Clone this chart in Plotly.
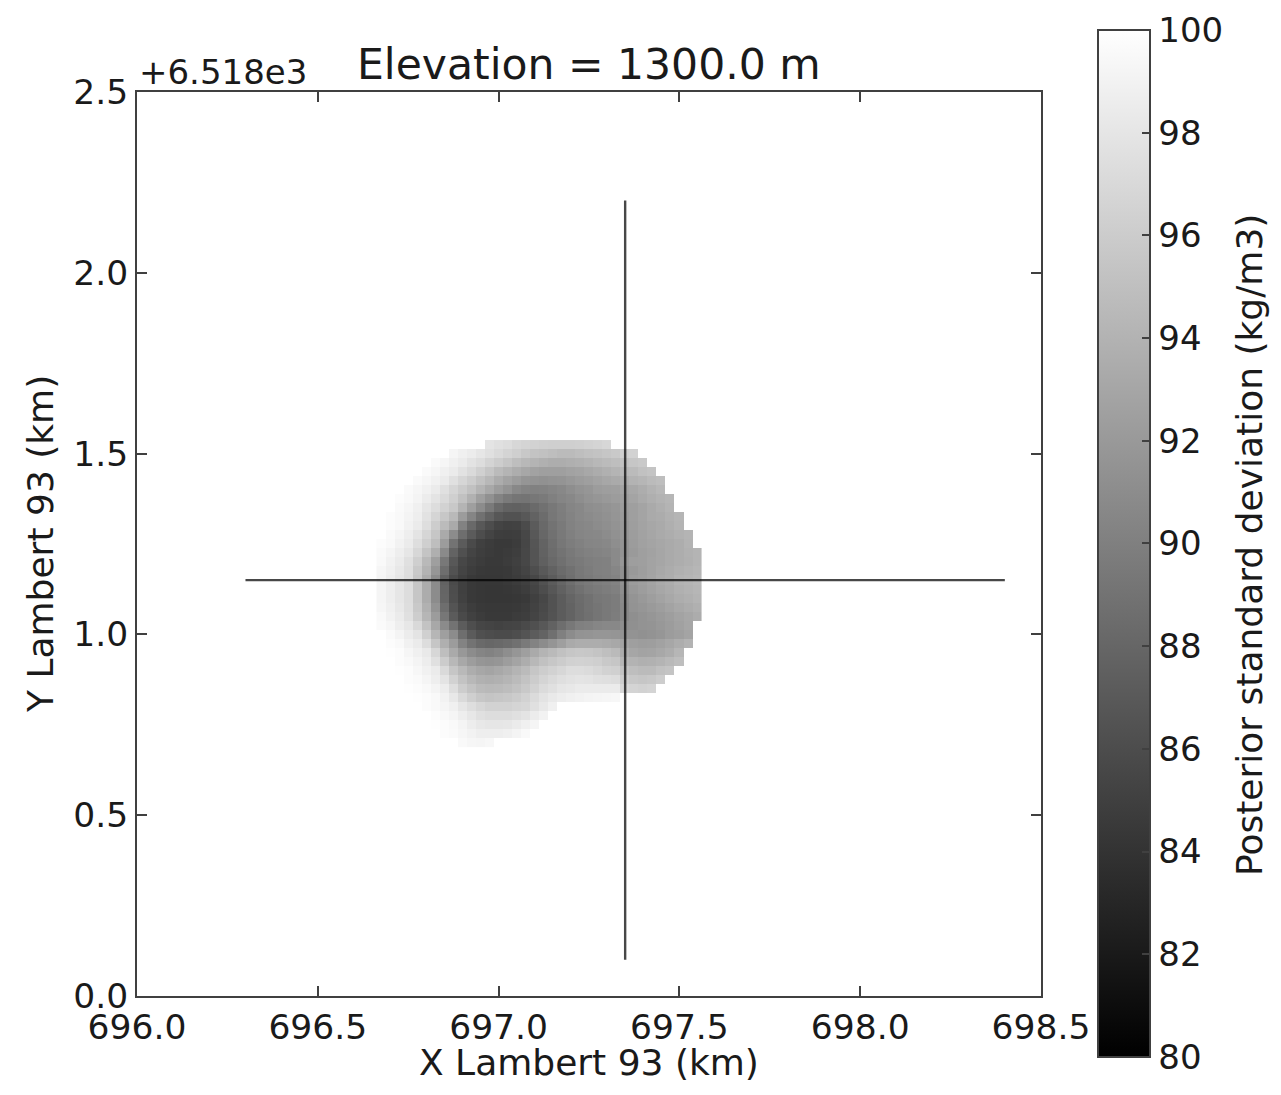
import plotly.graph_objects as go

# Posterior standard deviation of density (kg/m3) on the 1300 m elevation slice.
# Grid spacing is 25 m; cells outside the resolved zone are left empty (None).
_ = None

# Easting of cell centres (km, Lambert 93)
x_km = [696.675, 696.700, 696.725, 696.750, 696.775, 696.800, 696.825, 696.850,
        696.875, 696.900, 696.925, 696.950, 696.975, 697.000, 697.025, 697.050,
        697.075, 697.100, 697.125, 697.150, 697.175, 697.200, 697.225, 697.250,
        697.275, 697.300, 697.325, 697.350, 697.375, 697.400, 697.425, 697.450,
        697.475, 697.500, 697.525, 697.550]

# Northing of cell centres (km, Lambert 93), south to north
y_km = [6518.700, 6518.725, 6518.750, 6518.775, 6518.800, 6518.825, 6518.850,
        6518.875, 6518.900, 6518.925, 6518.950, 6518.975, 6519.000, 6519.025,
        6519.050, 6519.075, 6519.100, 6519.125, 6519.150, 6519.175, 6519.200,
        6519.225, 6519.250, 6519.275, 6519.300, 6519.325, 6519.350, 6519.375,
        6519.400, 6519.425, 6519.450, 6519.475, 6519.500, 6519.525]

# Standard deviation rows, south to north (one row per northing above)
std_dev = [
    [_] * 9 + [99.5, 99.3, 99.2, 99.4] + [_] * 23,
    [_] * 7 + [99.8, 99.6, 99.3, 99.0, 98.7, 98.7, 98.7, 98.8, 99.1, 99.5] + [_] * 19,
    [_] * 6 + [99.9, 99.8, 99.5, 99.1, 98.6, 98.2, 98.0, 98.0, 98.1, 98.4, 98.8, 99.2] + [_] * 18,
    [_] * 6 + [99.8, 99.5, 99.2, 98.7, 98.1, 97.6, 97.3, 97.3, 97.3, 97.6, 97.9, 98.5, 99.0] + [_] * 17,
    [_] * 5 + [99.8, 99.5, 99.2, 98.8, 98.0, 97.4, 96.9, 96.5, 96.5, 96.5, 96.7, 96.9, 97.6,
               98.2, 98.8] + [_] * 16,
    [_] * 4 + [99.9, 99.8, 99.5, 99.0, 98.2, 97.1, 96.2, 95.6, 95.4, 95.5, 95.7, 96.0, 96.5,
               97.2, 97.8, 98.3, 98.6, 98.8, 99.0, 99.1, 99.2, 99.3, 99.4] + [_] * 9,
    [_] * 3 + [99.9, 99.8, 99.5, 99.1, 98.6, 97.4, 96.1, 95.3, 94.7, 94.5, 94.6, 94.8, 95.2,
               95.8, 96.5, 97.2, 97.6, 98.0, 98.2, 98.4, 98.4, 98.4, 98.4, 98.4, 96.9, 96.6,
               96.5, 96.6] + [_] * 5,
    [_] * 3 + [99.8, 99.6, 99.2, 98.7, 97.9, 96.5, 95.3, 94.4, 93.9, 93.7, 93.9, 94.2, 94.7,
               95.3, 96.0, 96.6, 97.1, 97.5, 97.7, 97.9, 97.8, 97.6, 97.5, 97.3, 96.1, 95.7,
               95.5, 95.7, 96.1] + [_] * 4,
    [_] * 2 + [99.9, 99.8, 99.4, 98.9, 98.4, 97.1, 95.5, 94.5, 93.6, 93.1, 92.9, 93.2, 93.6,
               94.1, 94.7, 95.5, 96.1, 96.5, 96.9, 97.3, 97.3, 97.2, 96.9, 96.5, 96.3, 95.3,
               94.9, 94.7, 94.7, 95.1, 95.4] + [_] * 3,
    [_] * 2 + [99.8, 99.5, 99.1, 98.6, 97.6, 96.0, 94.4, 93.2, 92.3, 91.8, 91.6, 91.8, 92.3,
               92.9, 93.6, 94.4, 95.1, 95.6, 96.0, 96.4, 96.5, 96.4, 96.2, 95.8, 95.5, 94.3,
               94.0, 93.8, 93.9, 94.1, 94.5, 94.9] + [_] * 2,
    [_] * 1 + [99.9, 99.8, 99.3, 98.8, 98.3, 96.9, 94.9, 93.3, 91.9, 91.0, 90.4, 90.2, 90.5,
               91.1, 91.8, 92.5, 93.3, 94.1, 94.6, 95.1, 95.5, 95.7, 95.6, 95.4, 95.0, 94.6,
               93.5, 93.0, 92.8, 92.9, 93.2, 93.6, 94.3] + [_] * 2,
    [_] * 1 + [99.8, 99.5, 98.9, 98.4, 97.3, 95.5, 93.7, 92.2, 90.3, 89.0, 88.3, 88.1, 88.2,
               88.5, 88.9, 89.6, 90.3, 91.0, 91.7, 92.5, 93.3, 93.6, 93.6, 93.6, 93.4, 93.2,
               92.8, 92.5, 92.3, 92.4, 92.7, 93.1, 93.6, 94.0] + [_] * 1,
    [_] * 1 + [99.6, 99.1, 98.5, 97.9, 96.3, 94.3, 92.5, 91.0, 88.6, 87.1, 86.3, 86.0, 85.9,
               85.9, 86.1, 86.6, 87.2, 87.8, 88.8, 90.0, 91.0, 91.5, 91.6, 91.8, 91.8, 91.7,
               91.5, 91.5, 91.4, 91.5, 91.8, 92.2, 92.5, 92.9] + [_] * 1,
    [99.6, 99.3, 98.7, 98.1, 97.0, 95.3, 93.2, 90.9, 89.0, 87.2, 86.1, 85.5, 85.3, 85.2,
     85.3, 85.4, 85.8, 86.3, 86.9, 87.7, 88.6, 89.4, 90.0, 90.2, 90.5, 90.7, 90.7, 91.1,
     91.3, 91.5, 91.6, 91.9, 92.2, 92.6, 93.0] + [_] * 1,
    [99.5, 99.0, 98.4, 97.6, 96.1, 94.3, 92.2, 89.3, 87.1, 85.8, 85.1, 84.7, 84.5, 84.5,
     84.5, 84.7, 84.9, 85.3, 85.9, 86.5, 87.2, 87.8, 88.4, 88.8, 89.2, 89.5, 89.8, 90.7,
     91.2, 91.5, 91.8, 92.1, 92.4, 92.8, 93.1, 93.5],
    [99.3, 98.8, 98.2, 97.4, 95.8, 93.9, 91.5, 88.6, 86.6, 85.4, 84.8, 84.5, 84.4, 84.4,
     84.4, 84.5, 84.7, 85.2, 85.7, 86.4, 87.2, 87.8, 88.4, 88.9, 89.2, 89.5, 89.7, 90.7,
     91.5, 91.8, 92.1, 92.4, 92.8, 93.2, 93.5, 93.8],
    [99.2, 98.7, 98.0, 97.3, 95.5, 93.5, 91.0, 88.0, 86.1, 85.1, 84.5, 84.3, 84.2, 84.2,
     84.2, 84.3, 84.5, 85.0, 85.6, 86.4, 87.2, 87.9, 88.5, 88.9, 89.3, 89.5, 89.7, 90.8,
     91.6, 92.0, 92.4, 92.8, 93.2, 93.6, 93.8, 94.1],
    [99.2, 98.7, 98.0, 97.3, 95.5, 93.5, 91.0, 87.9, 86.0, 85.0, 84.5, 84.3, 84.2, 84.2,
     84.3, 84.5, 84.8, 85.3, 86.0, 86.8, 87.6, 88.3, 88.9, 89.3, 89.6, 89.8, 90.0, 91.1,
     91.9, 92.3, 92.7, 93.1, 93.4, 93.8, 94.0, 94.3],
    [99.2, 98.7, 98.0, 97.3, 95.5, 93.5, 91.0, 87.8, 85.9, 85.0, 84.5, 84.3, 84.3, 84.3,
     84.5, 84.7, 85.0, 85.6, 86.4, 87.2, 88.0, 88.7, 89.3, 89.6, 89.9, 90.0, 90.3, 91.4,
     92.2, 92.5, 92.9, 93.3, 93.6, 94.0, 94.2, 94.4],
    [99.3, 98.8, 98.2, 97.4, 95.8, 94.0, 91.8, 88.6, 86.4, 85.3, 84.8, 84.5, 84.4, 84.4,
     84.5, 84.9, 85.3, 86.1, 87.0, 87.7, 88.4, 88.9, 89.4, 89.7, 90.0, 90.1, 90.5, 91.4,
     92.0, 92.4, 92.8, 93.2, 93.5, 93.8, 94.0, 94.3],
    [99.5, 99.0, 98.4, 97.6, 96.2, 94.5, 92.5, 89.4, 86.9, 85.6, 85.0, 84.7, 84.5, 84.5,
     84.7, 85.0, 85.6, 86.6, 87.5, 88.2, 88.8, 89.3, 89.6, 89.9, 90.0, 90.1, 90.8, 91.8,
     92.4, 92.5, 92.8, 93.0, 93.3, 93.6, 93.8, 94.1],
    [99.6, 99.2, 98.7, 98.0, 96.9, 95.4, 93.7, 90.8, 87.8, 86.3, 85.3, 84.9, 84.6, 84.5,
     84.6, 84.9, 85.6, 86.6, 87.7, 88.5, 89.0, 89.5, 89.9, 90.1, 90.3, 90.4, 90.8, 91.5,
     92.1, 92.5, 92.7, 93.0, 93.3, 93.6, 93.9, 94.1],
    [99.8, 99.5, 99.0, 98.4, 97.4, 96.2, 94.9, 92.2, 89.0, 87.1, 85.8, 85.0, 84.7, 84.5,
     84.5, 84.7, 85.5, 86.7, 87.8, 88.6, 89.3, 89.8, 90.1, 90.4, 90.5, 90.7, 91.1, 91.6,
     92.2, 92.6, 92.9, 93.1, 93.3, 93.6, 94.0] + [_] * 1,
    [_] * 1 + [99.6, 99.2, 98.7, 97.9, 96.8, 95.5, 93.3, 91.0, 88.6, 87.1, 86.0, 85.3, 84.9,
               84.8, 84.9, 85.6, 86.9, 88.1, 88.9, 89.5, 90.0, 90.4, 90.6, 90.7, 91.0, 91.4,
               91.8, 92.3, 92.7, 93.0, 93.3, 93.6, 93.9, 94.1] + [_] * 1,
    [_] * 1 + [99.8, 99.5, 99.0, 98.4, 97.4, 96.1, 94.7, 93.3, 90.2, 88.2, 86.9, 86.0, 85.3,
               85.1, 85.2, 85.9, 87.1, 88.2, 89.0, 89.6, 90.2, 90.5, 90.7, 91.0, 91.2, 91.5,
               91.9, 92.4, 92.8, 93.1, 93.3, 93.7, 94.1] + [_] * 2,
    [_] * 1 + [99.8, 99.5, 99.1, 98.7, 97.7, 96.7, 95.6, 94.5, 92.2, 90.4, 88.9, 87.8, 86.8,
               86.4, 86.4, 86.9, 87.7, 88.5, 89.3, 89.8, 90.3, 90.7, 90.9, 91.1, 91.4, 91.7,
               92.1, 92.5, 92.9, 93.3, 93.5, 93.9, 94.2] + [_] * 2,
    [_] * 2 + [99.6, 99.3, 98.8, 98.0, 97.3, 96.5, 95.7, 94.1, 92.5, 91.0, 89.6, 88.3, 87.7,
               87.6, 87.8, 88.3, 88.9, 89.4, 89.9, 90.4, 90.7, 91.1, 91.3, 91.5, 91.8, 92.2,
               92.5, 92.9, 93.3, 93.7, 94.1] + [_] * 3,
    [_] * 2 + [99.8, 99.5, 99.1, 98.5, 97.9, 97.1, 96.2, 95.1, 93.9, 92.5, 91.4, 90.3, 89.6,
               89.2, 89.1, 89.3, 89.6, 90.0, 90.4, 90.7, 91.1, 91.5, 91.8, 92.0, 92.2, 92.5,
               92.9, 93.3, 93.7, 94.0, 94.3] + [_] * 3,
    [_] * 3 + [99.6, 99.3, 98.9, 98.4, 97.6, 96.7, 95.9, 95.1, 94.1, 93.2, 92.2, 91.5, 90.7,
               90.3, 90.1, 90.2, 90.4, 90.7, 91.1, 91.5, 91.8, 92.2, 92.4, 92.5, 92.9, 93.2,
               93.6, 94.0, 94.4] + [_] * 4,
    [_] * 4 + [99.6, 99.3, 98.9, 98.4, 97.6, 96.8, 96.1, 95.2, 94.4, 93.5, 92.8, 92.2, 91.7,
               91.5, 91.4, 91.5, 91.6, 91.9, 92.2, 92.5, 92.8, 93.1, 93.3, 93.6, 94.0, 94.3,
               94.7, 94.9] + [_] * 4,
    [_] * 5 + [99.6, 99.3, 98.8, 98.4, 97.7, 97.1, 96.3, 95.5, 94.7, 94.1, 93.6, 93.1, 92.7,
               92.5, 92.5, 92.5, 92.7, 92.9, 93.2, 93.5, 93.8, 94.1, 94.4, 94.7, 95.1,
               95.4] + [_] * 5,
    [_] * 6 + [99.6, 99.3, 98.8, 98.4, 97.8, 97.3, 96.6, 96.1, 95.5, 94.9, 94.4, 94.1, 93.8,
               93.6, 93.6, 93.7, 93.9, 94.1, 94.4, 94.7, 94.9, 95.2, 95.5, 95.8] + [_] * 6,
    [_] * 8 + [99.2, 98.8, 98.5, 98.0, 97.6, 97.1, 96.6, 96.2, 95.7, 95.3, 95.1, 94.9, 94.7,
               94.7, 94.9, 95.1, 95.3, 95.5, 95.8, 96.2, 96.5] + [_] * 7,
    [_] * 12 + [97.9, 97.6, 97.3, 96.9, 96.6, 96.5, 96.3, 96.2, 96.2, 96.2, 96.3, 96.5,
                96.6, 96.9] + [_] * 10,
]

# Cross-section traces drawn over the slice
section_ew_x = [696.3, 698.4]
section_ew_y = [6519.15, 6519.15]
section_ns_x = [697.35, 697.35]
section_ns_y = [6518.1, 6520.2]

# Axis ticks
x_ticks = [696.0, 696.5, 697.0, 697.5, 698.0, 698.5]
x_tick_text = ["696.0", "696.5", "697.0", "697.5", "698.0", "698.5"]
y_ticks = [6518.0, 6518.5, 6519.0, 6519.5, 6520.0, 6520.5]
y_tick_text = ["0.0", "0.5", "1.0", "1.5", "2.0", "2.5"]
cbar_ticks = [80, 82, 84, 86, 88, 90, 92, 94, 96, 98, 100]

FONT = "DejaVu Sans"
INK = "#1a1a1a"
FRAME = "#404040"

fig = go.Figure()

fig.add_trace(go.Heatmap(
    x=x_km, y=y_km, z=std_dev,
    zmin=80, zmax=100,
    colorscale=[[0.0, "#000000"], [1.0, "#ffffff"]],
    zsmooth=False,
    hoverongaps=False,
    colorbar=dict(
        thickness=52, thicknessmode="pixels",
        len=1047, lenmode="pixels",
        x=1.052, xanchor="left",
        y=0.5006, yanchor="middle",
        outlinewidth=2, outlinecolor=FRAME,
        tickmode="array", tickvals=cbar_ticks,
        ticks="inside", ticklen=9, tickwidth=1.5, tickcolor=FRAME,
        tickfont=dict(family=FONT, size=34, color=INK),
    ),
))

for xs, ys in ((section_ew_x, section_ew_y), (section_ns_x, section_ns_y)):
    fig.add_trace(go.Scatter(
        x=xs, y=ys, mode="lines",
        line=dict(color="rgba(0,0,0,0.72)", width=2.4),
        hoverinfo="skip", showlegend=False,
    ))

axis_common = dict(
    showgrid=False, zeroline=False,
    showline=True, linecolor=FRAME, linewidth=2, mirror="allticks",
    ticks="inside", ticklen=10, tickwidth=1.5, tickcolor=FRAME,
    tickfont=dict(family=FONT, size=34.5, color=INK),
)

fig.update_layout(
    width=1281, height=1095,
    margin=dict(l=137, r=240, t=92, b=99, pad=0),
    paper_bgcolor="white", plot_bgcolor="white",
    showlegend=False,
    xaxis=dict(range=[696.0, 698.5], tickmode="array", tickvals=x_ticks,
               ticktext=x_tick_text, **axis_common),
    yaxis=dict(range=[6518.0, 6520.5], tickmode="array", tickvals=y_ticks,
               ticktext=y_tick_text, **axis_common),
    annotations=[
        dict(text="Elevation = 1300.0 m", xref="paper", yref="paper",
             x=0.5, y=1.0299, xanchor="center", yanchor="middle", showarrow=False,
             font=dict(family=FONT, size=42.5, color=INK)),
        dict(text="+6.518e3", xref="paper", yref="paper",
             x=0.0, y=1.0221, xanchor="left", yanchor="middle", showarrow=False,
             font=dict(family=FONT, size=34, color=INK)),
        dict(text="X Lambert 93 (km)", xref="paper", yref="paper",
             x=0.5, y=-0.0735, xanchor="center", yanchor="middle", showarrow=False,
             font=dict(family=FONT, size=36, color=INK)),
        dict(text="Y Lambert 93 (km)", xref="paper", yref="paper",
             x=-0.1073, y=0.5, xanchor="center", yanchor="middle", showarrow=False,
             textangle=-90, font=dict(family=FONT, size=36, color=INK)),
        dict(text="Posterior standard deviation (kg/m3)", xref="paper", yref="paper",
             x=1.2312, y=0.4989, xanchor="center", yanchor="middle", showarrow=False,
             textangle=-90, font=dict(family=FONT, size=36, color=INK)),
    ],
)

fig.write_html("out.html")
